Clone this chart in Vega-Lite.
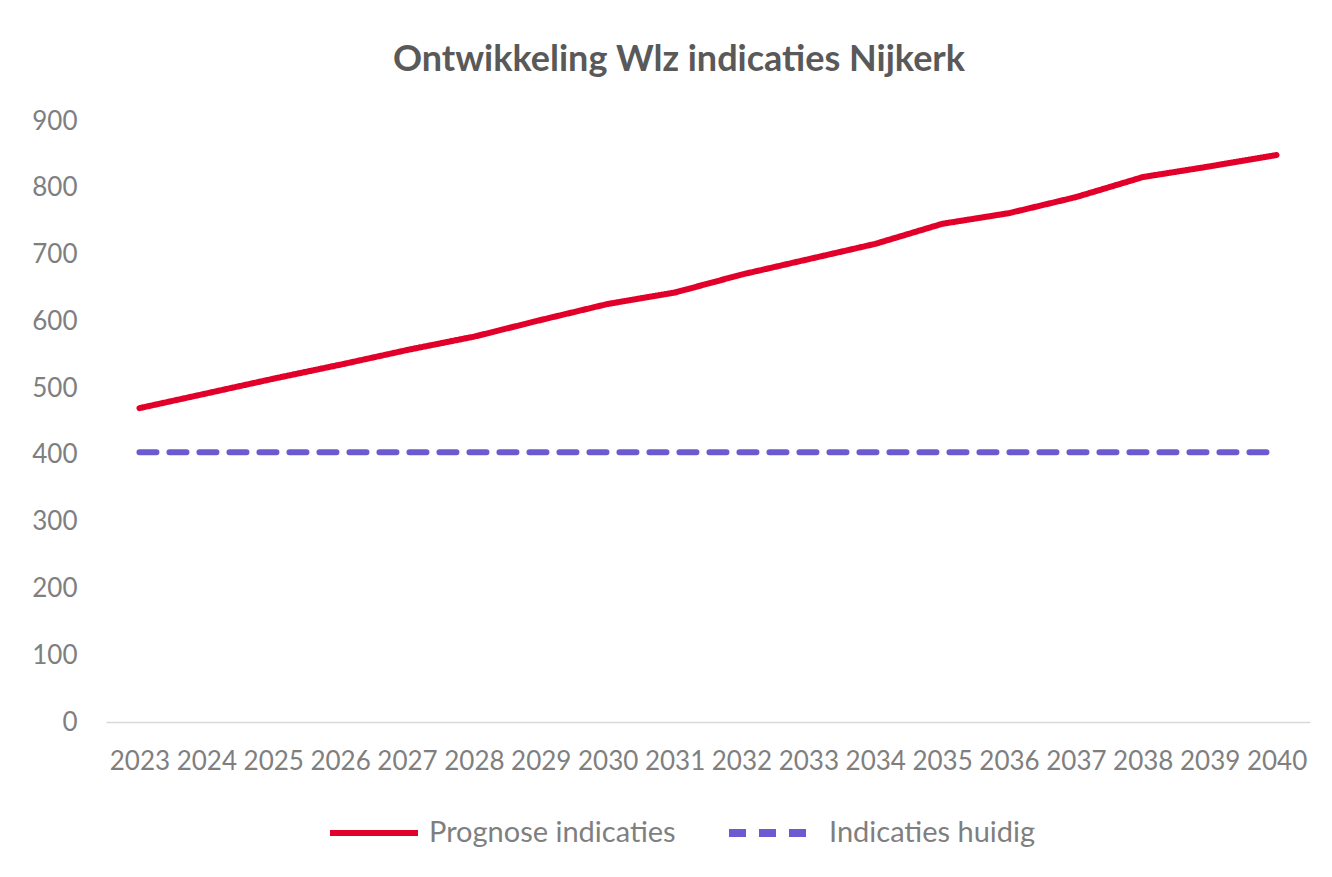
{
  "$schema": "https://vega.github.io/schema/vega-lite/v6.json",
  "autosize": "none",
  "width": 1204,
  "height": 601,
  "padding": {"left": 106, "top": 121, "right": 22, "bottom": 155},
  "background": "white",
  "title": {
    "text": "Ontwikkeling Wlz indicaties Nijkerk",
    "font": "Lato",
    "fontSize": 36,
    "fontWeight": "bold",
    "color": "#595959",
    "anchor": "middle",
    "dx": -29,
    "offset": 29
  },
  "data": {
    "values": [
      {"year": "2023", "series": "Prognose indicaties", "value": 470},
      {"year": "2024", "series": "Prognose indicaties", "value": 492},
      {"year": "2025", "series": "Prognose indicaties", "value": 514},
      {"year": "2026", "series": "Prognose indicaties", "value": 535},
      {"year": "2027", "series": "Prognose indicaties", "value": 557},
      {"year": "2028", "series": "Prognose indicaties", "value": 577},
      {"year": "2029", "series": "Prognose indicaties", "value": 602},
      {"year": "2030", "series": "Prognose indicaties", "value": 626},
      {"year": "2031", "series": "Prognose indicaties", "value": 643},
      {"year": "2032", "series": "Prognose indicaties", "value": 670},
      {"year": "2033", "series": "Prognose indicaties", "value": 693},
      {"year": "2034", "series": "Prognose indicaties", "value": 716},
      {"year": "2035", "series": "Prognose indicaties", "value": 746},
      {"year": "2036", "series": "Prognose indicaties", "value": 762},
      {"year": "2037", "series": "Prognose indicaties", "value": 786},
      {"year": "2038", "series": "Prognose indicaties", "value": 816},
      {"year": "2039", "series": "Prognose indicaties", "value": 832},
      {"year": "2040", "series": "Prognose indicaties", "value": 849},
      {"year": "2023", "series": "Indicaties huidig", "value": 404},
      {"year": "2024", "series": "Indicaties huidig", "value": 404},
      {"year": "2025", "series": "Indicaties huidig", "value": 404},
      {"year": "2026", "series": "Indicaties huidig", "value": 404},
      {"year": "2027", "series": "Indicaties huidig", "value": 404},
      {"year": "2028", "series": "Indicaties huidig", "value": 404},
      {"year": "2029", "series": "Indicaties huidig", "value": 404},
      {"year": "2030", "series": "Indicaties huidig", "value": 404},
      {"year": "2031", "series": "Indicaties huidig", "value": 404},
      {"year": "2032", "series": "Indicaties huidig", "value": 404},
      {"year": "2033", "series": "Indicaties huidig", "value": 404},
      {"year": "2034", "series": "Indicaties huidig", "value": 404},
      {"year": "2035", "series": "Indicaties huidig", "value": 404},
      {"year": "2036", "series": "Indicaties huidig", "value": 404},
      {"year": "2037", "series": "Indicaties huidig", "value": 404},
      {"year": "2038", "series": "Indicaties huidig", "value": 404},
      {"year": "2039", "series": "Indicaties huidig", "value": 404},
      {"year": "2040", "series": "Indicaties huidig", "value": 404}
    ]
  },
  "mark": {"type": "line", "strokeWidth": 6, "strokeCap": "round", "strokeJoin": "round"},
  "encoding": {
    "x": {
      "field": "year",
      "type": "nominal",
      "scale": {"type": "point", "padding": 0.5},
      "axis": {
        "title": null,
        "labelAngle": 0,
        "labelFont": "Lato",
        "labelFontSize": 26,
        "labelColor": "#7f7f7f",
        "labelPadding": 26,
        "ticks": false,
        "domain": true,
        "domainColor": "#d9d9d9",
        "domainWidth": 1.5,
        "grid": false
      }
    },
    "y": {
      "field": "value",
      "type": "quantitative",
      "scale": {"domain": [0, 900], "nice": false},
      "axis": {
        "title": null,
        "values": [0, 100, 200, 300, 400, 500, 600, 700, 800, 900],
        "labelFont": "Lato",
        "labelFontSize": 26,
        "labelColor": "#7f7f7f",
        "labelPadding": 29,
        "ticks": false,
        "domain": false,
        "grid": false
      }
    },
    "color": {
      "field": "series",
      "type": "nominal",
      "sort": ["Prognose indicaties", "Indicaties huidig"],
      "scale": {"domain": ["Prognose indicaties", "Indicaties huidig"], "range": ["#e2002b", "#6c5bd0"]},
      "legend": {
        "title": null,
        "orient": "none",
        "direction": "horizontal",
        "legendX": 221,
        "legendY": 664,
        "symbolType": "stroke",
        "symbolSize": 7744,
        "symbolStrokeWidth": 7,
        "labelFont": "Lato",
        "labelFontSize": 29,
        "labelColor": "#7f7f7f",
        "labelOffset": 8,
        "columnPadding": 37,
        "padding": 0,
        "labelLimit": 400
      }
    },
    "strokeDash": {
      "field": "series",
      "type": "nominal",
      "sort": ["Prognose indicaties", "Indicaties huidig"],
      "scale": {"domain": ["Prognose indicaties", "Indicaties huidig"], "range": [[1, 0], [17, 13]]},
      "legend": null
    },
    "strokeWidth": {
      "field": "series",
      "type": "nominal",
      "scale": {"domain": ["Prognose indicaties", "Indicaties huidig"], "range": [6, 8]},
      "legend": null
    }
  },
  "config": {"view": {"stroke": null}}
}
